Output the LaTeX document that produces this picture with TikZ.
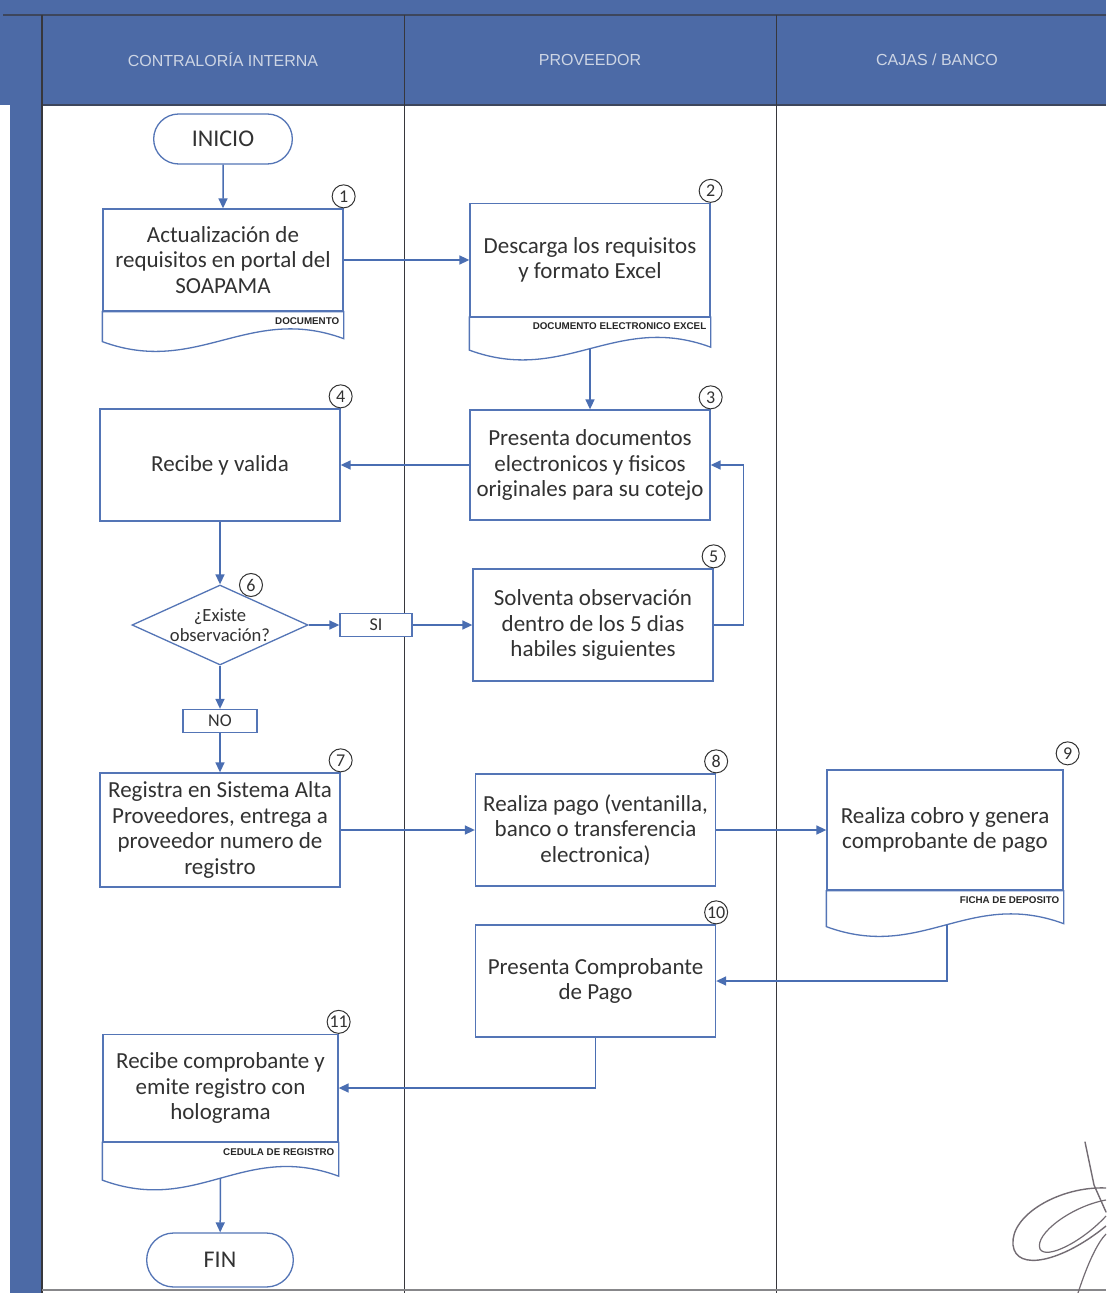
\documentclass[tikz,border=0pt]{standalone}
\usepackage{fontspec}
\setmainfont{Carlito}
\newfontfamily\hdrfont{Liberation Sans}
\usetikzlibrary{shapes.geometric,shapes.misc,arrows.meta}
\definecolor{hdrblue}{RGB}{76,106,166}
\definecolor{boxblue}{RGB}{84,117,182}
\definecolor{arrblue}{RGB}{74,110,178}
\definecolor{txt}{RGB}{50,50,50}
\definecolor{lane}{RGB}{55,55,60}
\definecolor{hdrtxt}{RGB}{205,213,228}
\definecolor{ink}{RGB}{115,108,115}

\begin{document}
\begin{tikzpicture}[x=0.5pt,y=-0.5pt]
\tikzstyle{proc}=[rectangle,draw=boxblue,line width=0.65pt,fill=white,minimum width=120pt,minimum height=56pt,align=center,text=txt,inner sep=1pt,font=\fontsize{11.5}{12.7}\selectfont];
\tikzstyle{term}=[rounded rectangle,draw=boxblue,line width=0.65pt,fill=white,minimum width=76pt,minimum height=25pt,text=txt,font=\fontsize{12}{13}\selectfont];
\tikzstyle{dec}=[diamond,draw=boxblue,line width=0.65pt,fill=white,minimum width=88pt,minimum height=40pt,inner sep=0pt];
\tikzstyle{dectxt}=[align=center,text=txt,inner sep=0pt,font=\fontsize{9.3}{10}\selectfont];
\tikzstyle{tag}=[rectangle,draw=boxblue,line width=0.65pt,fill=white,minimum width=37pt,minimum height=11.5pt,inner sep=0pt,text=txt,font=\fontsize{9}{9}\selectfont];
\tikzstyle{num}=[circle,draw=black!80,line width=0.5pt,fill=white,inner sep=0pt,minimum size=11.5pt,anchor=south,text=txt,font=\fontsize{9}{9}\selectfont];
\tikzstyle{docline}=[draw=boxblue,line width=0.65pt,fill=white];
\tikzstyle{doclbl}=[anchor=east,inner sep=0pt,text=black!85,font=\hdrfont\bfseries\fontsize{4.9}{5}\selectfont];
\tikzstyle{hdr}=[text=hdrtxt,font=\hdrfont\fontsize{8}{9}\selectfont];
\tikzstyle{flow}=[-{Triangle[length=5pt,width=4.5pt]},draw=arrblue,line width=0.75pt];
\useasboundingbox (0,0) rectangle (1106,1293);

% fondo y carriles
\fill[white] (0,0) rectangle (1106,1293);
\fill[hdrblue] (0,0) rectangle (1106,105);
\fill[hdrblue] (10,105) rectangle (42,1293);
\draw[lane!70!hdrblue,line width=0.8pt] (3,15) -- (1106,15);
\draw[lane!70!hdrblue,line width=0.8pt] (42,105) -- (1106,105);
\draw[lane,line width=0.6pt] (42,15) -- (42,1293);
\foreach \x in {404,776}
  \draw[lane,line width=0.5pt] (\x,15) -- (\x,1293);
\draw[lane!60,line width=0.6pt] (42,1290) -- (1106,1290);

\node [hdr] (h1) at (223,60) {CONTRALORÍA INTERNA};
\node [hdr] (h2) at (590,60) {PROVEEDOR};
\node [hdr] (h3) at (937,60) {CAJAS / BANCO};

% actividades
\node [term] (ini) at (223,139) {INICIO};

\node [proc,minimum height=51pt] (p1) at (223,260) {Actualización de\\requisitos en portal del\\SOAPAMA};
\draw [docline] (p1.south west) -- ++(0,30) .. controls +(95,35) and +(-95,-35) .. ([yshift=-13.5pt]p1.south east) -- (p1.south east) -- cycle;
\node [doclbl] (l1) at ([xshift=-2pt,yshift=-4.5pt]p1.south east) {DOCUMENTO};
\node [num] (n1) at (p1.north east) {1};

\node [proc,minimum height=56.5pt] (p2) at (590,260) {Descarga los requisitos\\y formato Excel};
\draw [docline] (p2.south west) -- ++(0,33) .. controls +(95,35) and +(-95,-35) .. ([yshift=-15pt]p2.south east) -- (p2.south east) -- cycle;
\node [doclbl] (l2) at ([xshift=-2pt,yshift=-4.5pt]p2.south east) {DOCUMENTO ELECTRONICO EXCEL};
\node [num] (n2) at (p2.north east) {2};
\coordinate (w2) at ([yshift=-16pt]p2.south);

\node [proc,minimum height=55pt] (p3) at (590,465) {Presenta documentos\\electronicos y fisicos\\originales para su cotejo};
\node [num] (n3) at (p3.north east) {3};

\node [proc,minimum height=56pt] (p4) at (220,465) {Recibe y valida};
\node [num] (n4) at (p4.north east) {4};

\node [dec] (d6) at (220,625) {};
\node [dectxt] (d6t) at (220,625) {¿Existe\\observación?};
\node [num,anchor=center] (n6) at (251,585) {6};

\node [tag,minimum width=36pt] (si) at (376,625) {SI};

\node [proc,minimum height=56pt] (p5) at (593,625) {Solventa observación\\dentro de los 5 dias\\habiles siguientes};
\node [num] (n5) at (p5.north east) {5};

\node [tag] (no) at (220,721) {NO};

\node [proc,minimum height=57pt] (p7) at (220,830) {Registra en Sistema Alta\\Proveedores, entrega a\\proveedor numero de\\registro};
\node [num] (n7) at (p7.north east) {7};

\node [proc,minimum height=56pt] (p8) at (595.5,830) {Realiza pago (ventanilla,\\banco o transferencia\\electronica)};
\node [num] (n8) at (p8.north east) {8};

\node [proc,minimum width=118pt,minimum height=60pt] (p9) at (945,830) {Realiza cobro y genera\\comprobante de pago};
\draw [docline] (p9.south west) -- ++(0,36) .. controls +(95,35) and +(-95,-35) .. ([yshift=-16.5pt]p9.south east) -- (p9.south east) -- cycle;
\node [doclbl] (l9) at ([xshift=-2pt,yshift=-4.5pt]p9.south east) {FICHA DE DEPOSITO};
\node [num] (n9) at ([xshift=2pt,yshift=2pt]p9.north east) {9};
\coordinate (w9) at ([xshift=1pt,yshift=-17pt]p9.south);

\node [proc,minimum height=56pt] (p10) at (595.5,981) {Presenta Comprobante\\de Pago};
\node [num] (n10) at (p10.north east) {10};

\node [proc,minimum width=117.5pt,minimum height=53.5pt] (p11) at (220.5,1088) {Recibe comprobante y\\emite registro con\\holograma};
\draw [docline] (p11.south west) -- ++(0,38) .. controls +(95,35) and +(-95,-35) .. ([yshift=-17pt]p11.south east) -- (p11.south east) -- cycle;
\node [doclbl] (l11) at ([xshift=-2pt,yshift=-5pt]p11.south east) {CEDULA DE REGISTRO};
\node [num] (n11) at (p11.north east) {11};
\coordinate (w11) at ([yshift=-18pt]p11.south);

\node [term,minimum width=80pt,minimum height=27pt] (fin) at (220,1260) {FIN};

% conectores
\draw [flow] (ini) -- (p1);
\draw [flow] (p1) -- (p2);
\draw [flow] (w2) -- (p3.north);
\draw [flow] (p3) -- (p4);
\draw [flow] (p4) -- (d6);
\draw [flow] (d6) -- (si);
\draw [flow] (si) -- (p5);
\draw [flow] (p5.east) -- ++(30,0) |- (p3.east);
\draw [flow] (d6) -- (no);
\draw [flow] (no) -- (p7);
\draw [flow] (p7) -- (p8);
\draw [flow] (p8) -- (p9);
\draw [flow] (w9) |- (p10.east);
\draw [flow] (p10.south) |- (p11.east);
\draw [flow] (w11) -- (fin);

% firma
\draw [ink,line width=0.7pt,line cap=round] (1085,1142) -- (1094,1185) -- (1106,1212);
\draw [ink,line width=0.7pt] (1106,1188) .. controls (1060,1186) and (1010,1215) .. (1013,1245) .. controls (1016,1272) and (1062,1262) .. (1106,1226);
\draw [ink,line width=0.6pt] (1106,1200) .. controls (1072,1206) and (1034,1234) .. (1040,1249) .. controls (1046,1260) and (1082,1242) .. (1106,1216);
\draw [ink,line width=0.6pt] (1078,1293) .. controls (1088,1262) and (1098,1242) .. (1106,1234);
\end{tikzpicture}
\end{document}
